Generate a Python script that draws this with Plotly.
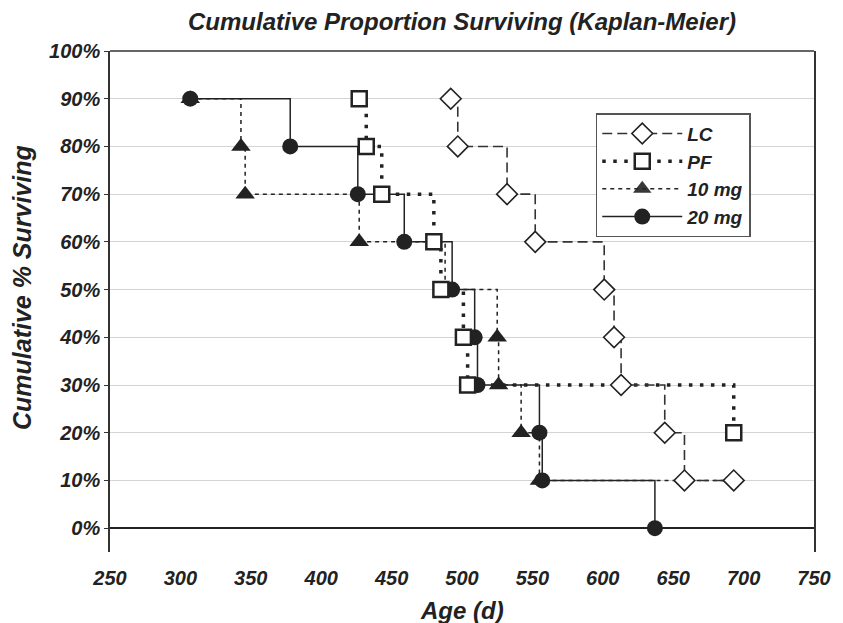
import plotly.graph_objects as go

# ---- data (age in days, cumulative % surviving) ----
lc_age = [492, 497, 532, 552, 601, 608, 613, 644, 658, 693]
lc_surv = [90, 80, 70, 60, 50, 40, 30, 20, 10, 10]

pf_age = [427, 432, 443, 480, 485, 501, 504, 693]
pf_surv = [90, 80, 70, 60, 50, 40, 30, 20]

mg10_age = [307, 343, 346, 427, 488, 525, 526, 542, 555, 693]
mg10_surv = [90, 80, 70, 60, 50, 40, 30, 20, 10, 10]
mg10_shown = [1, 1, 1, 1, 1, 1, 1, 1, 1, 0]  # last point: line end only

mg20_age = [307, 378, 426, 459, 493, 509, 511, 555, 557, 637]
mg20_surv = [90, 80, 70, 60, 50, 40, 30, 20, 10, 0]

x_ticks = [250, 300, 350, 400, 450, 500, 550, 600, 650, 700, 750]
y_ticks = [0, 10, 20, 30, 40, 50, 60, 70, 80, 90, 100]
y_labels = [f"{v}%" for v in y_ticks]

FONT = "Liberation Sans, Arial, sans-serif"
INK = "#222222"

fig = go.Figure()

# drawing order: 10 mg, 20 mg, PF, LC (legend order set by legendrank)
fig.add_trace(go.Scatter(
    x=mg10_age, y=mg10_surv, name="10 mg", mode="lines+markers",
    line=dict(shape="hv", color=INK, width=1.5, dash="4px,4px"),
    marker=dict(symbol="triangle-up", color=INK, size=17,
                opacity=mg10_shown),
    legendrank=3,
))
fig.add_trace(go.Scatter(
    x=mg20_age, y=mg20_surv, name="20 mg", mode="lines+markers",
    line=dict(shape="hv", color=INK, width=1.5),
    marker=dict(symbol="circle", color=INK, size=16),
    legendrank=4,
))
fig.add_trace(go.Scatter(
    x=pf_age, y=pf_surv, name="PF", mode="lines+markers",
    line=dict(shape="hv", color=INK, width=3.5, dash="3.5px,7.5px"),
    marker=dict(symbol="square", color="white", size=15,
                line=dict(color=INK, width=2.5)),
    legendrank=2,
))
fig.add_trace(go.Scatter(
    x=lc_age, y=lc_surv, name="LC", mode="lines+markers",
    line=dict(shape="hv", color="#333333", width=1.6, dash="10px,5px"),
    marker=dict(symbol="diamond", color="white", size=16,
                line=dict(color=INK, width=1.6)),
    legendrank=1,
))

tick_font = dict(family=FONT, size=20, color=INK, weight="bold", style="italic")

fig.update_layout(
    width=843, height=623,
    margin=dict(l=110, r=19, t=51, b=71),
    paper_bgcolor="white", plot_bgcolor="white",
    title=dict(text="Cumulative Proportion Surviving (Kaplan-Meier)",
               x=0.5, xref="paper", y=1 - 22 / 623, yref="container",
               xanchor="center", yanchor="middle",
               font=dict(family=FONT, size=24, color=INK,
                         weight="bold", style="italic")),
    showlegend=True,
    legend=dict(x=0.69, y=0.876, xanchor="left", yanchor="top",
                bgcolor="white", bordercolor="#555555", borderwidth=1.5,
                font=dict(family=FONT, size=19, color=INK,
                          weight="bold", style="italic"),
                itemwidth=80, tracegroupgap=0),
    xaxis=dict(range=[250, 750], tickvals=x_ticks,
               showgrid=False, zeroline=False, showline=False,
               ticks="outside", ticklen=8, tickcolor="rgba(0,0,0,0)",
               tickfont=tick_font, fixedrange=True),
    yaxis=dict(range=[-5, 100], tickvals=y_ticks, ticktext=y_labels,
               showgrid=True, gridcolor="#d4d4d4", gridwidth=1,
               zeroline=True, zerolinecolor=INK, zerolinewidth=2,
               showline=True, linecolor="#333333", linewidth=1.5, mirror=True,
               ticks="outside", ticklen=4, tickcolor="#333333",
               tickfont=tick_font, fixedrange=True),
    shapes=[dict(type="line", xref="paper", yref="paper",
                 x0=0, x1=1, y0=1, y1=1,
                 line=dict(color="#333333", width=1.5))],
    annotations=[
        dict(text="Age (d)", xref="paper", yref="paper", x=0.5, y=0,
             yshift=-58, showarrow=False, xanchor="center", yanchor="middle",
             font=dict(family=FONT, size=24, color=INK,
                       weight="bold", style="italic")),
        dict(text="Cumulative % Surviving", xref="paper", yref="paper",
             x=0, xshift=-88, y=(552 - 288) / 501, showarrow=False,
             textangle=-90, xanchor="center", yanchor="middle",
             font=dict(family=FONT, size=25, color=INK,
                       weight="bold", style="italic")),
    ],
)

fig.write_html("out.html")
